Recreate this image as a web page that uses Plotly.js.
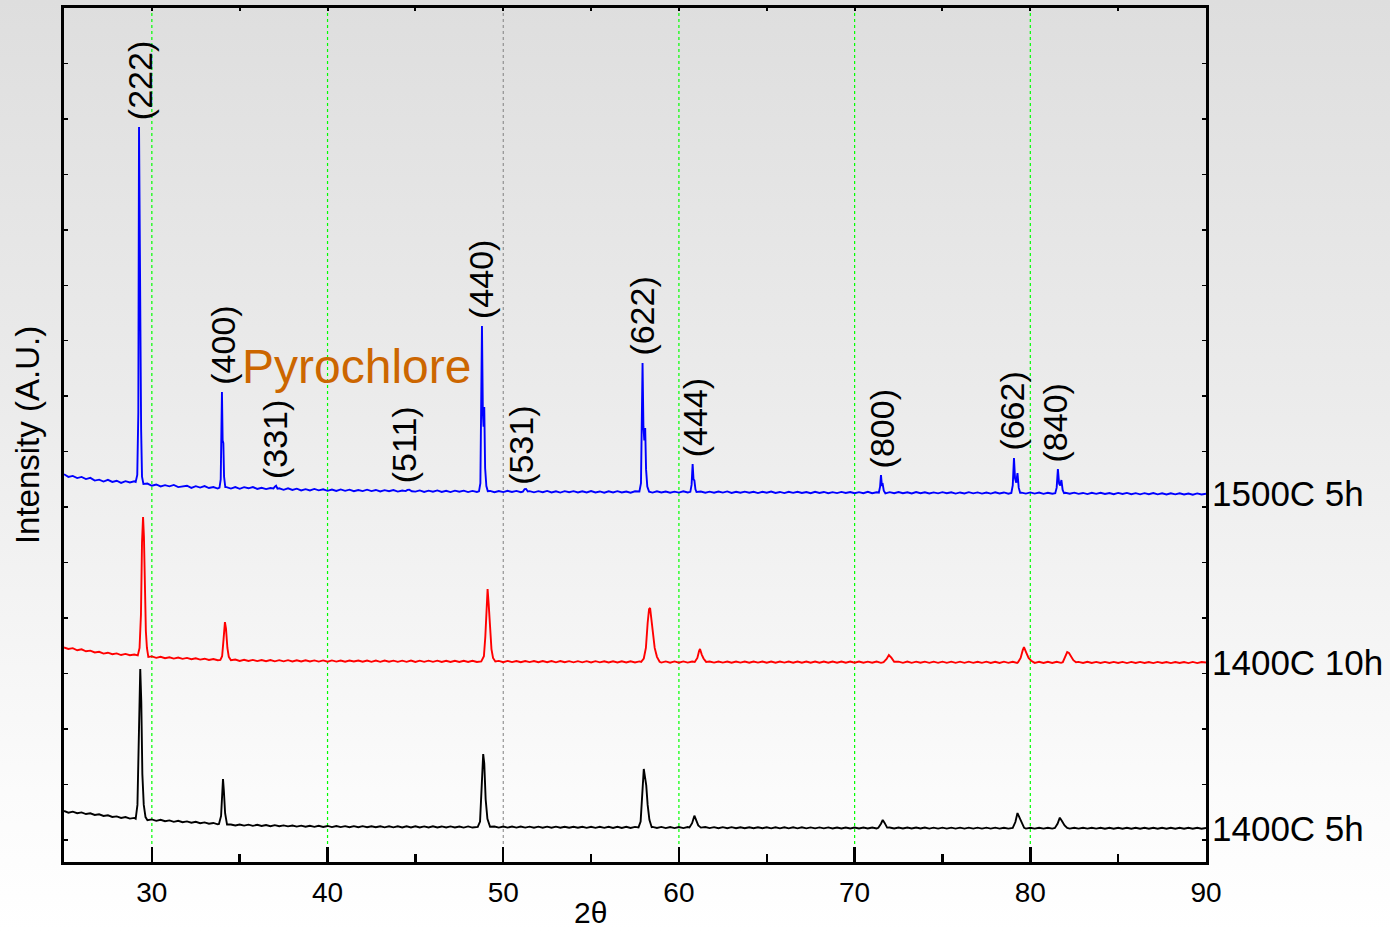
<!DOCTYPE html>
<html>
<head>
<meta charset="utf-8">
<script src="https://cdn.plot.ly/plotly-3.0.1.min.js"></script>
<style>
  html, body { margin: 0; padding: 0; }
  body { width: 1390px; height: 931px; background: linear-gradient(to bottom, #dedede 0%, #ececec 45%, #fbfbfb 85%, #ffffff 100%); }
  #chart { width: 1390px; height: 931px; }
</style>
</head>
<body>
<div id="chart"></div>
<script>
// ---------- DATA ----------
// 2-theta scan grid (degrees) used for the background parts of every pattern
const twoTheta = [
25,25.25,25.5,25.75, 26,26.25,26.5,26.75, 27,27.25,27.5,27.75, 28,28.25,28.5,28.75, 29,29.25,29.5,29.75,
30,30.25,30.5,30.75, 31,31.25,31.5,31.75, 32,32.25,32.5,32.75, 33,33.25,33.5,33.75, 34,34.25,34.5,34.75,
35,35.25,35.5,35.75, 36,36.25,36.5,36.75, 37,37.25,37.5,37.75, 38,38.25,38.5,38.75, 39,39.25,39.5,39.75,
40,40.25,40.5,40.75, 41,41.25,41.5,41.75, 42,42.25,42.5,42.75, 43,43.25,43.5,43.75, 44,44.25,44.5,44.75,
45,45.25,45.5,45.75, 46,46.25,46.5,46.75, 47,47.25,47.5,47.75, 48,48.25,48.5,48.75, 49,49.25,49.5,49.75,
50,50.25,50.5,50.75, 51,51.25,51.5,51.75, 52,52.25,52.5,52.75, 53,53.25,53.5,53.75, 54,54.25,54.5,54.75,
55,55.25,55.5,55.75, 56,56.25,56.5,56.75, 57,57.25,57.5,57.75, 58,58.25,58.5,58.75, 59,59.25,59.5,59.75,
60,60.25,60.5,60.75, 61,61.25,61.5,61.75, 62,62.25,62.5,62.75, 63,63.25,63.5,63.75, 64,64.25,64.5,64.75,
65,65.25,65.5,65.75, 66,66.25,66.5,66.75, 67,67.25,67.5,67.75, 68,68.25,68.5,68.75, 69,69.25,69.5,69.75,
70,70.25,70.5,70.75, 71,71.25,71.5,71.75, 72,72.25,72.5,72.75, 73,73.25,73.5,73.75, 74,74.25,74.5,74.75,
75,75.25,75.5,75.75, 76,76.25,76.5,76.75, 77,77.25,77.5,77.75, 78,78.25,78.5,78.75, 79,79.25,79.5,79.75,
80,80.25,80.5,80.75, 81,81.25,81.5,81.75, 82,82.25,82.5,82.75, 83,83.25,83.5,83.75, 84,84.25,84.5,84.75,
85,85.25,85.5,85.75, 86,86.25,86.5,86.75, 87,87.25,87.5,87.75, 88,88.25,88.5,88.75, 89,89.25,89.5,89.75,
90];

// background intensity (counts) on the grid
const bg1500C5h = [
393,345,362,323, 344,305,327,278, 295,260,291,254, 275,236,267,243, 265,240,217,224,
185,208,172,196, 174,199,161,179, 185,147,177,152, 178,144,161,134, 152,160,134,160,
129,160,139,162, 128,148,125,144, 130,140,111,138, 110,132,100,124, 100,127,102,120,
93,116,90,118, 93,114,87,109, 88,114,88,109, 81,105,86,107, 80,99,90,90,
79,100,74,97, 78,100,73,93, 70,96,77,97, 71,91,72,82, 81,91,69,89,
70,94,72,91, 69,80,88,66, 88,69,91,65, 84,62,88,69, 87,63,85,65,
89,64,82,60, 84,65,87,63, 81,60,86,72, 72,72,62,84, 64,81,59,79,
61,85,63,71, 70,80,58,78, 59,81,61,82, 56,76,58,79, 59,77,53,76,
58,80,55,73, 53,75,56,76, 54,72,51,77, 55,73,50,70, 52,74,54,72,
50,69,51,75, 50,68,60,48, 70,51,71,49, 67,46,72,50, 68,46,65,47,
69,49,66,44, 64,46,69,47, 65,43,62,44, 66,46,64,41, 53,53,61,43,
65,44,62,39, 59,40,50,50, 59,41,60,38, 55,35,57,38, 58,36,53,33,
55,36,56,33, 51,30,52,33, 53,30,48,27, 49,30,50,27, 45,24,46,27,
41];

const bg1400C10h = [
310,282,296,258, 275,240,252,219, 230,198,214,186, 202,172,192,168, 181,160,150,143,
148,122,140,114, 131,108,126,104, 120,96,113,90, 106,82,99,78, 82,80,79,90,
66,86,64,84, 62,83,60,81, 59,80,58,79, 57,78,56,77, 55,76,54,76,
53,75,54,74, 52,73,55,72, 51,74,50,72, 50,72,52,71, 49,71,50,72,
48,71,49,70, 49,70,47,69, 47,69,48,68, 46,68,46,67, 56,56,56,66,
44,66,45,65, 43,65,44,64, 42,64,43,63, 41,63,42,62, 40,62,41,61,
39,61,40,60, 38,60,39,59, 37,59,38,58, 47,47,47,47, 36,58,35,57,
35,57,36,56, 46,46,46,56, 35,56,36,55, 34,56,35,55, 34,55,35,55,
34,55,34,56, 35,54,34,55, 33,54,34,55, 33,55,33,54, 34,54,33,55,
33,54,34,53, 33,54,32,53, 43,43,53,32, 54,32,53,33, 52,31,53,32,
52,32,53,31, 52,31,52,32, 51,31,52,30, 51,30,52,31, 51,30,41,41,
40,30,50,30, 51,30,50,31, 39,39,39,49, 29,50,28,49, 28,49,29,48,
28,48,27,49, 29,48,28,47, 27,48,28,47, 27,47,28,46, 27,48,27,46,
37];

const bg1400C5h = [
340,309,328,300, 315,285,298,268, 280,250,262,232, 243,214,230,202, 215,204,190,185,
188,162,182,156, 170,144,162,138, 152,128,144,120, 134,110,124,100, 100,100,97,78,
97,76,93,72, 90,70,86,66, 84,64,80,62, 78,58,76,56, 72,54,72,52,
70,50,68,49, 67,48,66,47, 66,46,65,46, 65,45,64,45, 64,44,63,44,
64,44,62,43, 63,43,61,42, 62,42,60,41, 61,41,58,50, 50,50,60,40,
60,40,59,40, 59,40,58,39, 58,38,57,38, 57,37,56,37, 56,37,55,36,
56,36,55,36, 55,35,54,35, 54,34,53,44, 44,44,52,33, 52,32,51,32,
51,32,50,40, 40,40,50,31, 49,30,48,30, 48,29,47,29, 47,28,46,28,
46,27,46,27, 45,27,45,26, 45,26,44,26, 44,26,44,25, 43,25,43,25,
43,25,42,24, 42,24,36,36, 42,24,41,24, 41,24,41,24, 41,23,40,23,
40,23,40,23, 40,23,39,22, 39,22,39,22, 39,22,38,22, 34,34,34,22,
38,22,38,22, 38,22,34,34, 34,22,38,22, 38,22,37,22, 37,21,37,21,
37,21,37,21, 36,21,36,21, 36,21,36,21, 36,20,36,20, 36,20,36,20,
33];

// Reflection profiles (2θ, counts), one sub-array per peak
const peak2Theta1500C5h = [
  [29.08,29.17,29.23,29.27,29.31,29.35,29.39,29.44,29.52],
  [33.85,33.92,33.96,33.99,34.03,34.07,34.11,34.18],
  [36.92,37.0,37.07,37.15],
  [44.45,44.55,44.65,44.8],
  [48.62,48.70,48.75,48.79,48.84,48.88,48.92,48.97,49.04,49.12],
  [51.12,51.22,51.3,51.4],
  [57.75,57.84,57.89,57.93,57.98,58.03,58.08,58.13,58.2,58.3],
  [60.65,60.72,60.78,60.83,60.88,60.94,61.0],
  [71.38,71.45,71.5,71.55,71.6,71.66,71.72],
  [78.92,79.0,79.07,79.13,79.2,79.27,79.34,79.42],
  [81.42,81.5,81.57,81.64,81.7,81.77,81.84,81.92]
];
const peakCounts1500C5h = [
  [255,380,1500,6652,3300,3000,1200,350,218],
  [150,300,1100,1874,1000,955,350,160],
  [135,170,185,132],
  [88,110,115,86],
  [85,230,1400,3064,1500,1250,1604,500,180,88],
  [80,125,128,82],
  [80,230,1300,2397,1250,1000,1225,480,170,78],
  [75,200,576,300,280,120,72],
  [62,170,378,200,210,95,60],
  [56,190,684,320,240,414,150,58],
  [52,150,486,220,190,287,110,52]
];

const peak2Theta1400C10h = [
  [29.2,29.3,29.38,29.44,29.5,29.55,29.6,29.66,29.72,29.8],
  [33.9,34.0,34.08,34.16,34.22,34.3,34.38,34.5],
  [48.75,48.9,48.98,49.05,49.11,49.17,49.25,49.33,49.42,49.55],
  [57.85,58.0,58.12,58.22,58.3,58.36,58.44,58.52,58.62,58.75,58.9],
  [60.9,61.05,61.15,61.2,61.3,61.4,61.55],
  [71.65,71.82,71.95,72.1,72.25],
  [79.3,79.45,79.57,79.64,79.75,79.9,80.05,80.2],
  [81.85,82.0,82.1,82.2,82.32,82.45,82.6]
];
const peakCounts1400C10h = [
  [165,300,900,2200,2660,2300,1100,600,300,140],
  [85,150,450,767,650,300,140,80],
  [57,150,500,1150,1362,1100,600,280,120,56],
  [50,110,300,750,1000,1020,800,600,300,140,50],
  [48,120,250,280,180,110,48],
  [45,100,172,120,50],
  [42,120,260,316,230,120,70,42],
  [42,140,226,210,150,80,42]
];

const peak2Theta1400C5h = [
  [29.08,29.18,29.26,29.34,29.4,29.46,29.54,29.64,29.75],
  [33.82,33.94,34.0,34.05,34.1,34.17,34.28],
  [48.55,48.68,48.78,48.86,48.92,49.0,49.1,49.25],
  [57.7,57.82,57.92,58.0,58.07,58.14,58.22,58.32,58.45],
  [60.6,60.75,60.88,60.98,61.1,61.25],
  [71.35,71.5,71.6,71.7,71.85],
  [79.0,79.15,79.27,79.38,79.5,79.65],
  [81.4,81.55,81.68,81.8,81.95,82.1]
];
const peakCounts1400C5h = [
  [200,450,1800,2900,2300,1000,450,230,172],
  [105,250,700,916,700,300,95],
  [52,150,700,1367,1200,550,200,55],
  [45,150,600,1097,950,800,450,180,48],
  [42,120,255,180,80,40],
  [36,110,177,130,40],
  [34,140,303,220,120,36],
  [34,110,219,160,80,34]
];

const sampleNames = ["1500C 5h", "1400C 10h", "1400C 5h"];
const stackOffsets = [6600, 3560, 580];      // vertical stacking of the patterns (counts)
const hklLabels = ["(222)","(400)","(331)","(511)","(440)","(531)","(622)","(444)","(800)","(662)","(840)"];
const hkl2Theta = [29.3, 34.0, 37.0, 44.4, 48.7, 51.0, 57.9, 60.9, 71.55, 78.96, 81.4];
const gridGreen = [30, 40, 60, 70, 80];
const gridGray = [50];
const xTicks = [30, 40, 50, 60, 70, 80, 90];

// ---------- BUILD ----------
function buildPattern(bg, pX, pY, offset) {
  const pts = [];
  twoTheta.forEach((x, i) => {
    const inside = pX.some(seg => x >= seg[0] && x <= seg[seg.length - 1]);
    if (!inside) pts.push([x, bg[i]]);
  });
  pX.forEach((seg, k) => seg.forEach((x, j) => pts.push([x, pY[k][j]])));
  pts.sort((a, b) => a[0] - b[0]);
  return { x: pts.map(p => p[0]), y: pts.map(p => p[1] + offset) };
}

const patterns = [
  buildPattern(bg1500C5h, peak2Theta1500C5h, peakCounts1500C5h, stackOffsets[0]),
  buildPattern(bg1400C10h, peak2Theta1400C10h, peakCounts1400C10h, stackOffsets[1]),
  buildPattern(bg1400C5h, peak2Theta1400C5h, peakCounts1400C5h, stackOffsets[2])
];
const colors = ["#0000ff", "#ff0000", "#000000"];

const traces = patterns.map((p, i) => ({
  type: "scatter", mode: "lines", x: p.x, y: p.y, name: sampleNames[i],
  line: { color: colors[i], width: 1.9 }, hoverinfo: "skip"
}));
// empty trace carrying the top tick axis
traces.push({ type: "scatter", mode: "lines", x: [25, 90], y: [null, null], xaxis: "x2", yaxis: "y", showlegend: false, hoverinfo: "skip" });

const FONT = 'Arial, "Liberation Sans", sans-serif';

const annotations = [];
// hkl labels above the 1500C 5h pattern
const topPattern = patterns[0];
hklLabels.forEach((lab, i) => {
  const c = hkl2Theta[i];
  let m = -Infinity;
  topPattern.x.forEach((x, j) => { if (Math.abs(x - c) <= 0.2 && topPattern.y[j] > m) m = topPattern.y[j]; });
  annotations.push({
    x: c, y: m, xref: "x", yref: "y", text: lab, showarrow: false, textangle: -90,
    xanchor: "center", yanchor: "bottom", yshift: 5,
    font: { family: FONT, size: 34, color: "#000" }
  });
});
// sample names on the right
patterns.forEach((p, i) => {
  annotations.push({
    x: 1, y: p.y[p.y.length - 1], xref: "paper", yref: "y", text: sampleNames[i],
    showarrow: false, xanchor: "left", yanchor: "middle", xshift: 4,
    font: { family: FONT, size: 35, color: "#000" }
  });
});
annotations.push({
  x: 0.256, y: 0.58, xref: "paper", yref: "paper", text: "Pyrochlore", showarrow: false,
  xanchor: "center", yanchor: "middle", font: { family: FONT, size: 48, color: "#cc6600" }
});
annotations.push({
  x: 0.461, y: -0.0805, xref: "paper", yref: "paper", text: "2θ", showarrow: false,
  xanchor: "center", yanchor: "bottom", font: { family: FONT, size: 30, color: "#000" }
});

const shapes = [];
gridGreen.forEach(v => shapes.push({ type: "line", xref: "x", yref: "paper", x0: v, x1: v, y0: 0, y1: 1,
  line: { color: "#00ff00", width: 1.2, dash: "dot" }, layer: "below" }));
gridGray.forEach(v => shapes.push({ type: "line", xref: "x", yref: "paper", x0: v, x1: v, y0: 0, y1: 1,
  line: { color: "#808080", width: 1, dash: "dot" }, layer: "below" }));

const layout = {
  width: 1390, height: 931,
  margin: { l: 64, r: 184, t: 8, b: 69 },
  paper_bgcolor: "rgba(0,0,0,0)", plot_bgcolor: "rgba(0,0,0,0)",
  showlegend: false,
  font: { family: FONT, color: "#000" },
  xaxis: {
    range: [25, 90], tickvals: xTicks, ticktext: xTicks.map(String),
    ticks: "inside", ticklen: 15, tickwidth: 2.5, tickcolor: "#000",
    minor: { dtick: 5, tick0: 0, ticks: "inside", ticklen: 8, tickwidth: 2.5, tickcolor: "#000", showgrid: false },
    showline: true, linewidth: 3, linecolor: "#000", mirror: true,
    showgrid: false, zeroline: false, ticklabelstandoff: 3,
    tickfont: { family: FONT, size: 28, color: "#000" }
  },
  xaxis2: {
    overlaying: "x", side: "top", anchor: "y", range: [25, 90],
    tick0: 0, dtick: 5, ticks: "inside", ticklen: 3, tickwidth: 2, tickcolor: "#000",
    showticklabels: false, showgrid: false, showline: false, zeroline: false
  },
  yaxis: {
    range: [0, 15400], tick0: 400, dtick: 1000,
    ticks: "inside", ticklen: 4, tickwidth: 1.5, tickcolor: "#000",
    showticklabels: false, showgrid: false, zeroline: false,
    showline: true, linewidth: 3, linecolor: "#000", mirror: "ticks",
    title: { text: "Intensity (A.U.)", font: { family: FONT, size: 33, color: "#000" }, standoff: 12 }
  },
  annotations: annotations,
  shapes: shapes
};

Plotly.newPlot("chart", traces, layout, { displayModeBar: false, staticPlot: true });
</script>
</body>
</html>
